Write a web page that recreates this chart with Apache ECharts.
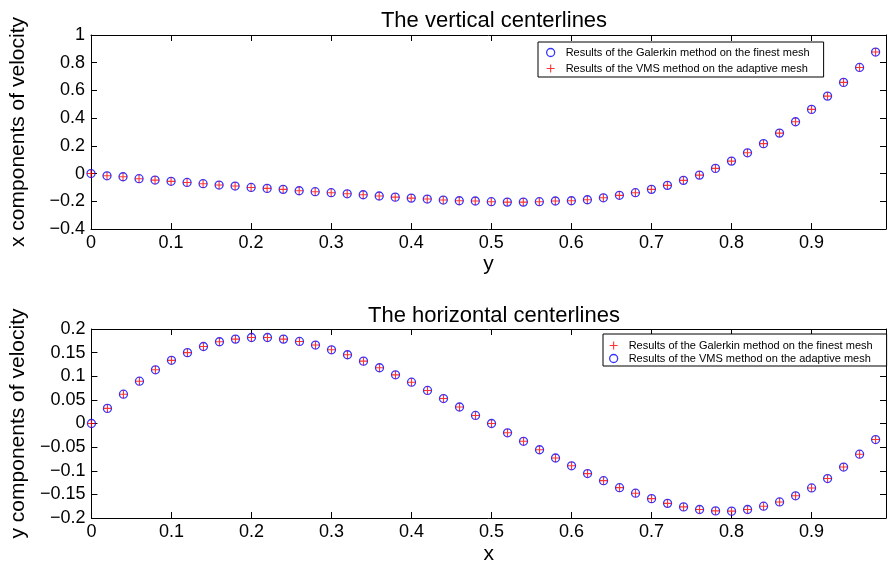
<!DOCTYPE html>
<html><head><meta charset="utf-8">
<script src="https://cdn.jsdelivr.net/npm/echarts@6/dist/echarts.min.js"></script>
<style>html,body{margin:0;padding:0;background:#fff}#c{width:889px;height:566px}</style>
</head><body><div id="c"></div>
<script>
var samplePos = [0,0.02,0.04,0.06,0.08,0.10,0.12,0.14,0.16,0.18,0.20,0.22,0.24,0.26,0.28,0.30,0.32,0.34,0.36,0.38,0.40,0.42,0.44,0.46,0.48,0.50,0.52,0.54,0.56,0.58,0.60,0.62,0.64,0.66,0.68,0.70,0.72,0.74,0.76,0.78,0.80,0.82,0.84,0.86,0.88,0.90,0.92,0.94,0.96,0.98];
var topGalerkin = [0,-0.016,-0.023,-0.037,-0.047,-0.056,-0.064,-0.073,-0.083,-0.090,-0.100,-0.107,-0.114,-0.124,-0.131,-0.138,-0.146,-0.153,-0.162,-0.170,-0.177,-0.184,-0.191,-0.196,-0.198,-0.203,-0.206,-0.206,-0.203,-0.198,-0.196,-0.189,-0.175,-0.157,-0.138,-0.114,-0.085,-0.049,-0.011,0.0375,0.090,0.150,0.216,0.292,0.374,0.463,0.559,0.658,0.766,0.877];
var topVMS = [0,-0.016,-0.023,-0.037,-0.047,-0.056,-0.064,-0.073,-0.083,-0.090,-0.100,-0.107,-0.114,-0.124,-0.131,-0.138,-0.146,-0.153,-0.162,-0.170,-0.177,-0.184,-0.191,-0.196,-0.198,-0.203,-0.206,-0.206,-0.203,-0.198,-0.196,-0.189,-0.175,-0.157,-0.138,-0.114,-0.085,-0.049,-0.011,0.0375,0.090,0.150,0.216,0.292,0.374,0.463,0.559,0.658,0.766,0.877];
var botGalerkin = [0,0.032,0.062,0.0895,0.1136,0.1337,0.150,0.163,0.173,0.1786,0.182,0.182,0.1786,0.1737,0.166,0.156,0.1455,0.132,0.118,0.103,0.0874,0.070,0.0528,0.0349,0.017,0,-0.0197,-0.0377,-0.0556,-0.073,-0.0895,-0.106,-0.121,-0.1358,-0.1475,-0.159,-0.169,-0.1765,-0.182,-0.185,-0.1855,-0.182,-0.175,-0.166,-0.153,-0.1364,-0.1165,-0.0922,-0.065,-0.034];
var botVMS = [0,0.032,0.062,0.0895,0.1136,0.1337,0.150,0.163,0.173,0.1786,0.182,0.182,0.1786,0.1737,0.166,0.156,0.1455,0.132,0.118,0.103,0.0874,0.070,0.0528,0.0349,0.017,0,-0.0197,-0.0377,-0.0556,-0.073,-0.0895,-0.106,-0.121,-0.1358,-0.1475,-0.159,-0.169,-0.1765,-0.182,-0.185,-0.1855,-0.182,-0.175,-0.166,-0.153,-0.1364,-0.1165,-0.0922,-0.065,-0.034];
var topTitle = 'The vertical centerlines';
var botTitle = 'The horizontal centerlines';
var nameG = 'Results of the Galerkin method on the finest mesh';
var nameV = 'Results of the VMS method on the adaptive mesh';

var FONT = 'Liberation Sans';
var PLUS = 'path://M5,0V10M0,5H10';
function pair(a,b){ return a.map(function(v,i){return [v,b[i]];}); }
function xfmt(v){ var r=Math.round(v*10); if(Math.abs(v*10-r)>1e-6) return ''; return String(r/10); }
function yfmt(v){ var s=String(Math.round(v*1000)/1000); return s.replace('-','\u2212'); }
var circleStyle = {color:'#ffffff', borderColor:'#0000ff', borderWidth:1.3};
var plusStyle = {color:'#ff0000', borderColor:'#ff0000', borderWidth:1.1};

function xAx(gi, pos, show, name, gap){
  return {type:'value', gridIndex:gi, position:pos, min:0, max:0.993, interval:0.1,
    name: name||'', nameLocation:'middle', nameGap: gap||0,
    nameTextStyle:{fontFamily:FONT,fontSize:21,color:'#000'},
    axisLine:{show:true,onZero:false,lineStyle:{color:'#000',width:1}},
    axisTick:{show:true,inside:true,length:6,lineStyle:{color:'#000'}},
    axisLabel:{show:show,formatter:xfmt,fontFamily:FONT,fontSize:18,color:'#000',margin:5},
    splitLine:{show:false}};
}
function yAx(gi, pos, show, mn, mx, iv, name, gap){
  return {type:'value', gridIndex:gi, position:pos, min:mn, max:mx, interval:iv,
    name: name||'', nameLocation:'middle', nameGap: gap||0,
    nameTextStyle:{fontFamily:FONT,fontSize:21,color:'#000'},
    axisLine:{show:true,onZero:false,lineStyle:{color:'#000',width:1}},
    axisTick:{show:true,inside:true,length:6,lineStyle:{color:'#000'}},
    axisLabel:{show:show,formatter:yfmt,fontFamily:FONT,fontSize:18,color:'#000',margin:6},
    splitLine:{show:false}};
}
function legendBox(top,left,pad,gap,items){
  return {orient:'vertical', left:left, top:top, padding:pad, itemGap:gap,
    itemWidth:20, itemHeight:8, borderColor:'#000', borderWidth:1, backgroundColor:'#fff',
    textStyle:{fontFamily:FONT,fontSize:11,color:'#000'}, selectedMode:false, data:items};
}
var chart = echarts.init(document.getElementById('c'), null, {renderer:'canvas'});
chart.setOption({
  animation:false,
  backgroundColor:'#fff',
  title:[
    {text:topTitle, left:489, top:5, textAlign:'center', textStyle:{fontFamily:FONT,fontSize:22,fontWeight:'normal',color:'#000'}},
    {text:botTitle, left:489, top:300, textAlign:'center', textStyle:{fontFamily:FONT,fontSize:22,fontWeight:'normal',color:'#000'}}
  ],
  grid:[
    {left:90, top:35, width:798, height:194, show:false},
    {left:90, top:329, width:798, height:193, show:false}
  ],
  xAxis:[ xAx(0,'bottom',true,'y',25), xAx(0,'top',false), xAx(1,'bottom',true,'x',26), xAx(1,'top',false) ],
  yAxis:[ yAx(0,'left',true,-0.4,1,0.2,'x components of velocity',62), yAx(0,'right',false,-0.4,1,0.2),
          yAx(1,'left',true,-0.2,0.2,0.05,'y components of velocity',62), yAx(1,'right',false,-0.2,0.2,0.05) ],
  legend:[
    legendBox(42,538,[5,14,3,8],5,[
      {name:nameG, icon:'circle', itemStyle:circleStyle},
      {name:nameV, icon:PLUS, itemStyle:plusStyle}]),
    legendBox(334,603,[6,14,2,6],2,[
      {name:nameG, icon:PLUS, itemStyle:plusStyle},
      {name:nameV, icon:'circle', itemStyle:circleStyle}])
  ],
  series:[
    {name:nameG, type:'scatter', xAxisIndex:0, yAxisIndex:0, symbol:'circle', symbolSize:8, itemStyle:{color:'transparent',borderColor:'#0000ff',borderWidth:1.3}, z:2, data:pair(samplePos, topGalerkin)},
    {name:nameV, type:'scatter', xAxisIndex:0, yAxisIndex:0, symbol:PLUS, symbolSize:8, itemStyle:plusStyle, z:3, data:pair(samplePos, topVMS)},
    {name:nameV, type:'scatter', xAxisIndex:2, yAxisIndex:2, symbol:'circle', symbolSize:8, itemStyle:{color:'transparent',borderColor:'#0000ff',borderWidth:1.3}, z:2, data:pair(samplePos, botVMS)},
    {name:nameG, type:'scatter', xAxisIndex:2, yAxisIndex:2, symbol:PLUS, symbolSize:8, itemStyle:plusStyle, z:3, data:pair(samplePos, botGalerkin)}
  ]
});
</script></body></html>
